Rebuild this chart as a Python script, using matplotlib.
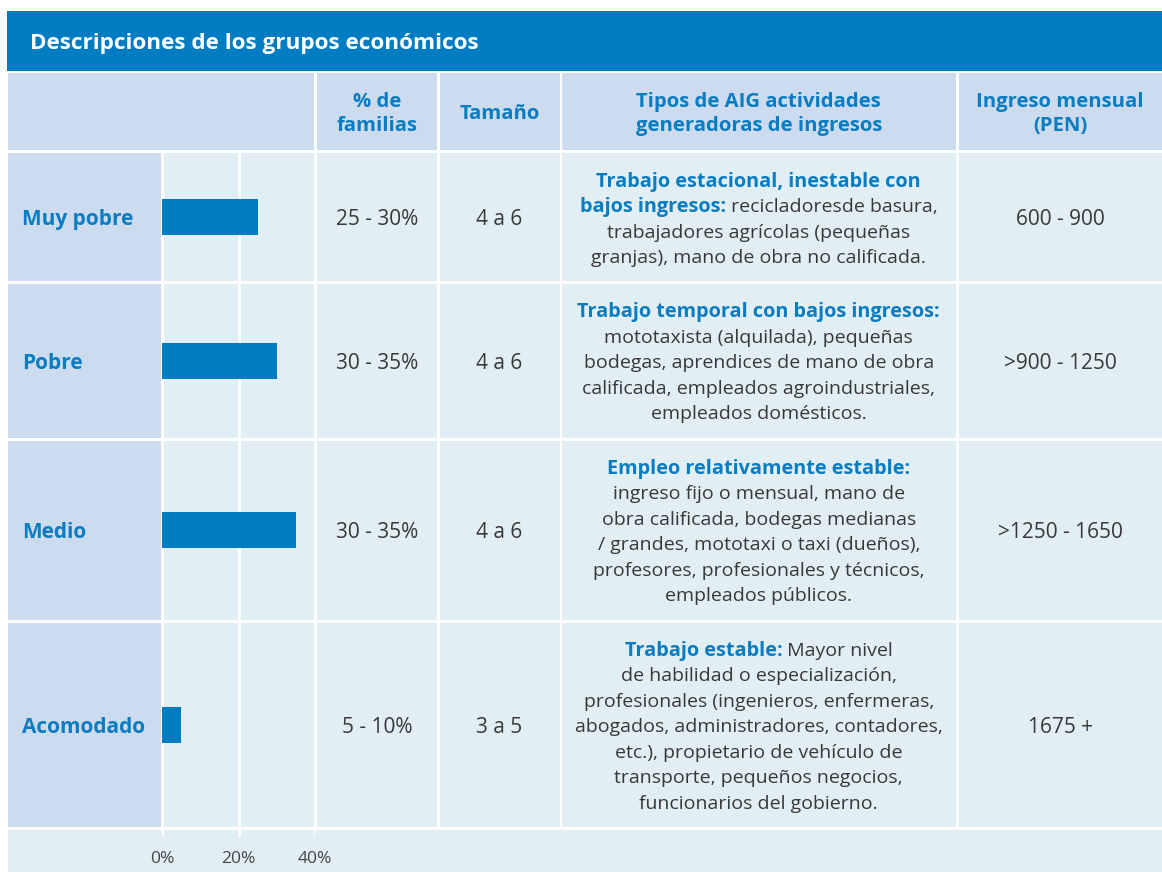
import matplotlib
matplotlib.use("Agg")
import matplotlib.pyplot as plt
from matplotlib.patches import Rectangle

# ---------------- data ----------------
grupos = ["Muy pobre", "Pobre", "Medio", "Acomodado"]
barras_pct = [25, 30, 35, 5]
pct_familias = ["25 - 30%", "30 - 35%", "30 - 35%", "5 - 10%"]
tamano = ["4 a 6", "4 a 6", "4 a 6", "3 a 5"]
ingreso = ["600 - 900", ">900 - 1250", ">1250 - 1650", "1675 +"]
ticks_pct = [0, 20, 40]
tick_labels = ["0%", "20%", "40%"]

titulo = "Descripciones de los grupos económicos"
encabezados = ["% de\nfamilias", "Tamaño",
               "Tipos de AIG actividades\ngeneradoras de ingresos",
               "Ingreso mensual\n(PEN)"]

# (bold part, regular part) per line
desc_muy_pobre = [("Trabajo estacional, inestable con", ""),
                  ("bajos ingresos:", " recicladoresde basura,"),
                  ("", "trabajadores agrícolas (pequeñas"),
                  ("", "granjas), mano de obra no calificada.")]
desc_pobre = [("Trabajo temporal con bajos ingresos:", ""),
              ("", "mototaxista (alquilada), pequeñas"),
              ("", "bodegas, aprendices de mano de obra"),
              ("", "calificada, empleados agroindustriales,"),
              ("", "empleados domésticos.")]
desc_medio = [("Empleo relativamente estable:", ""),
              ("", "ingreso fijo o mensual, mano de"),
              ("", "obra calificada, bodegas medianas"),
              ("", "/ grandes, mototaxi o taxi (dueños),"),
              ("", "profesores, profesionales y técnicos,"),
              ("", "empleados públicos.")]
desc_acomodado = [("Trabajo estable:", " Mayor nivel"),
                  ("", "de habilidad o especialización,"),
                  ("", "profesionales (ingenieros, enfermeras,"),
                  ("", "abogados, administradores, contadores,"),
                  ("", "etc.), propietario de vehículo de"),
                  ("", "transporte, pequeños negocios,"),
                  ("", "funcionarios del gobierno.")]
descripciones = [desc_muy_pobre, desc_pobre, desc_medio, desc_acomodado]

# ---------------- style / layout (pixels) ----------------
W, H = 1162, 872
BLUE = "#007CC2"
TXT_BLUE = "#0A7CC1"
HEAD_BG = "#CCDBED"
CELL_BG = "#E1EFF4"
GRAY_TXT = "#383838"
FONT = "Open Sans"

plt.rcParams["font.family"] = [FONT, "DejaVu Sans"]

cols = [(8, 160.5), (163, 314), (316.5, 437), (439.5, 559.5), (562, 955.5), (958.5, W)]
rows = [(153.5, 281), (284, 437.5), (440.5, 619.5), (622.5, 827)]
head_row = (73.5, 150.5)
title_row = (11, 71)
axis_row = (829.5, H)
DY = 2.5  # small baseline nudge for body text

fig = plt.figure(figsize=(W / 100, H / 100), dpi=100)
bg = fig.add_axes([0, 0, 1, 1])
bg.set_xlim(0, W)
bg.set_ylim(H, 0)
bg.axis("off")


def cell(x0, x1, y0, y1, color):
    bg.add_patch(Rectangle((x0, y0), x1 - x0, y1 - y0, facecolor=color,
                           edgecolor="none", zorder=0))


# title bar
cell(7, W, title_row[0], title_row[1], BLUE)
bg.text(30, sum(title_row) / 2 + 2.5, titulo, color="white", fontsize=16.2,
        fontweight="bold", va="center", ha="left")

# header row
cell(cols[0][0], cols[1][1], head_row[0], head_row[1], HEAD_BG)
for (x0, x1), lab in zip(cols[2:], encabezados):
    cell(x0, x1, head_row[0], head_row[1], HEAD_BG)
    bg.text((x0 + x1) / 2, sum(head_row) / 2 + 2, lab, color=TXT_BLUE, fontsize=14.6,
            fontweight="bold", ha="center", va="center", linespacing=1.33)

# body rows
renderer = fig.canvas.get_renderer()
PITCH = 25.5
for i, (y0, y1) in enumerate(rows):
    yc = (y0 + y1) / 2 + DY
    cell(cols[0][0], cols[0][1], y0, y1, HEAD_BG)
    for x0, x1 in cols[1:]:
        cell(x0, x1, y0, y1, CELL_BG)
    bg.text(22, yc, grupos[i], color=TXT_BLUE, fontsize=15, fontweight="bold",
            ha="left", va="center")
    for (x0, x1), val in zip([cols[2], cols[3], cols[5]],
                             [pct_familias[i], tamano[i], ingreso[i]]):
        bg.text((x0 + x1) / 2, yc, val, color=GRAY_TXT, fontsize=15,
                ha="center", va="center")

    # description with mixed bold / regular parts
    lines = descripciones[i]
    xc = (cols[4][0] + cols[4][1]) / 2
    n = len(lines)
    for j, (bold, reg) in enumerate(lines):
        y = yc + (j - (n - 1) / 2) * PITCH
        parts = []
        if bold:
            parts.append(bg.text(0, y, bold, color=TXT_BLUE, fontsize=14.3,
                                 fontweight="bold", ha="left", va="center"))
        if reg:
            parts.append(bg.text(0, y, reg, color=GRAY_TXT, fontsize=14,
                                 ha="left", va="center"))
        widths = [p.get_window_extent(renderer).width for p in parts]
        x = xc - sum(widths) / 2
        for p, w in zip(parts, widths):
            p.set_x(x)
            x += w

# axis row
cell(cols[0][0], W, axis_row[0], axis_row[1], CELL_BG)

# ---------------- bar chart ----------------
ax_top, ax_bot = rows[0][0], 837
x0, x1 = 162, 315.3
ax = fig.add_axes([x0 / W, 1 - ax_bot / H, (x1 - x0) / W, (ax_bot - ax_top) / H])
ax.set_facecolor("none")
ax.set_xlim(0, 40)
ax.set_ylim(ax_bot, ax_top)
centers = [(a + b) / 2 for a, b in rows]
ax.barh(centers, barras_pct, height=36, color=BLUE, zorder=3)
ax.set_xticks(ticks_pct)
ax.set_xticklabels(tick_labels, fontsize=12.5, color="#444444")
ax.set_yticks([])
ax.tick_params(axis="x", length=0, pad=10)
ax.grid(axis="x", color="white", linewidth=2.0, zorder=1)
ax.set_axisbelow(True)
for s in ax.spines.values():
    s.set_visible(False)

fig.savefig("out.png", dpi=100)
